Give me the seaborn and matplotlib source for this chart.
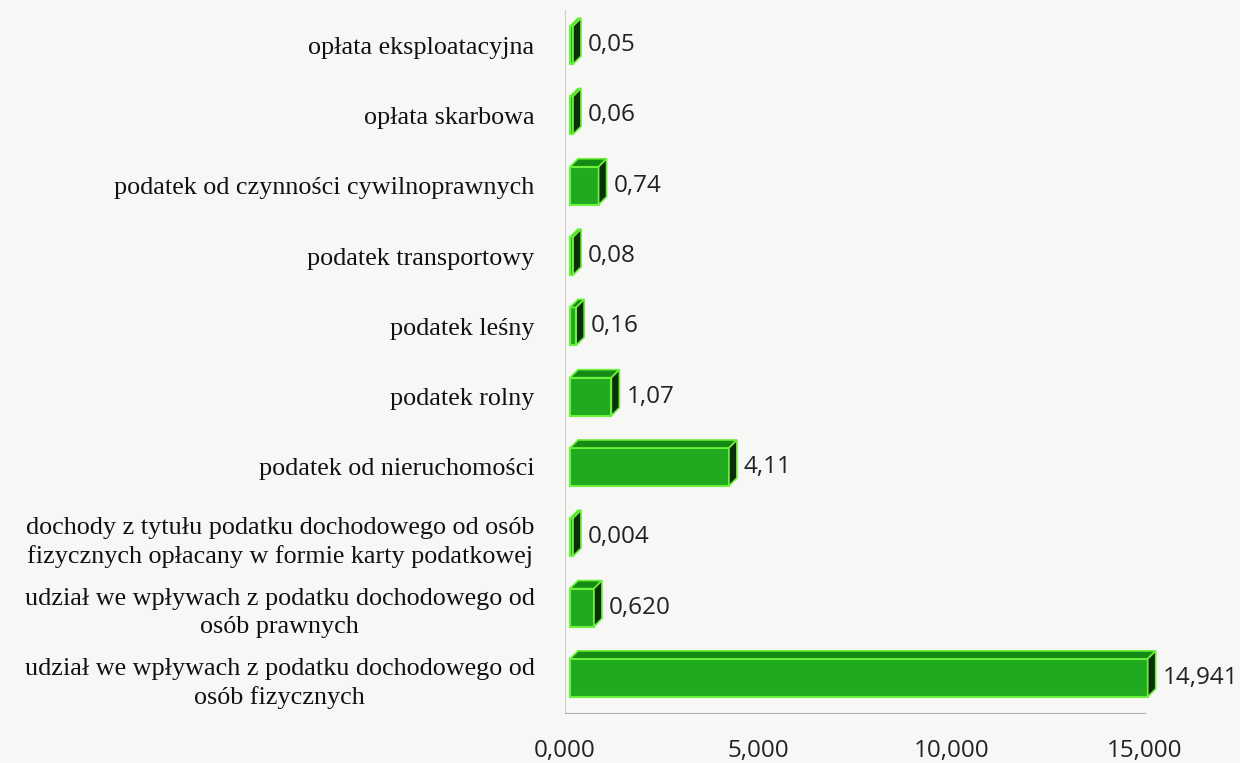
import numpy as np
import pandas as pd
import matplotlib
matplotlib.use("Agg")
import matplotlib.pyplot as plt
import seaborn as sns
from matplotlib.patches import Polygon

categories = [
    "opłata eksploatacyjna",
    "opłata skarbowa",
    "podatek od czynności cywilnoprawnych",
    "podatek transportowy",
    "podatek leśny",
    "podatek rolny",
    "podatek od nieruchomości",
    "dochody z tytułu podatku dochodowego od osób\nfizycznych opłacany w formie karty podatkowej",
    "udział we wpływach z podatku dochodowego od\nosób prawnych",
    "udział we wpływach z podatku dochodowego od\nosób fizycznych",
]
values = [0.05, 0.06, 0.74, 0.08, 0.16, 1.07, 4.11, 0.004, 0.620, 14.941]
value_labels = ["0,05", "0,06", "0,74", "0,08", "0,16", "1,07", "4,11", "0,004", "0,620", "14,941"]
x_ticks = [0, 5, 10, 15]
x_tick_labels = ["0,000", "5,000", "10,000", "15,000"]

df = pd.DataFrame({"kategoria": categories, "wartosc": values})

sns.set_style("white")
bg = "#f7f7f5"
front = "#20aa20"
edge = "#6cf23a"
top_col = "#158a15"
side_col = "#0b2e0b"

fig = plt.figure(figsize=(12.4, 7.63), dpi=100, facecolor=bg)
ax = fig.add_axes([565 / 1240, 1 - 713 / 763, (1145 - 565) / 1240, (713 - 10) / 763])
ax.set_facecolor(bg)

sns.barplot(data=df, x="wartosc", y="kategoria", orient="h", color=front,
            width=0.54, saturation=1, ax=ax, edgecolor=edge, linewidth=1.5)

ax.set_xlim(0, 15)
ax.set_ylim(9.5, -0.5)

# pixel -> data conversion for the 3D depth
px_x = 15 / (1145 - 565)
px_y = 10 / (713 - 10)
depth = 8

for p, lab in zip(ax.patches, value_labels):
    x0 = p.get_x() + 5 * px_x
    w = max(p.get_width(), 3 * px_x)
    y0 = p.get_y()
    h = p.get_height()
    p.set_x(x0)
    p.set_width(w)
    p.set_clip_on(False)
    x1 = x0 + w
    dx = depth * px_x
    dy = depth * px_y
    # top face (upwards = smaller y since axis is inverted)
    top = Polygon([(x0, y0), (x1, y0), (x1 + dx, y0 - dy), (x0 + dx, y0 - dy)],
                  closed=True, facecolor=top_col, edgecolor=edge, linewidth=1.2, clip_on=False)
    side = Polygon([(x1, y0), (x1 + dx, y0 - dy), (x1 + dx, y0 + h - dy), (x1, y0 + h)],
                   closed=True, facecolor=side_col, edgecolor=edge, linewidth=1.2, clip_on=False)
    ax.add_patch(top)
    ax.add_patch(side)
    ax.text(x1 + dx + 7 * px_x, y0 + h / 2, lab, va="center", ha="left",
            fontsize=17.5, family="Open Sans", color="#222222", clip_on=False)

ax.set_xticks(x_ticks)
ax.set_xticklabels(x_tick_labels, fontsize=17.5, family="Open Sans", color="#222222")
ax.tick_params(axis="x", direction="inout", length=8, width=1, color="#b0b0b0", pad=15)
ax.tick_params(axis="y", length=0, pad=22)
for t in ax.get_yticklabels():
    t.set_family("Liberation Serif")
    t.set_fontsize(18.8)
    t.set_color("#111111")
    t.set_multialignment("center")
    t.set_linespacing(1.33)

ax.set_xlabel("")
ax.set_ylabel("")
for s in ["top", "right"]:
    ax.spines[s].set_visible(False)
ax.spines["left"].set_color("#d0d0d0")
ax.spines["bottom"].set_color("#b0b0b0")

fig.savefig("out.png", dpi=100, facecolor=bg)
